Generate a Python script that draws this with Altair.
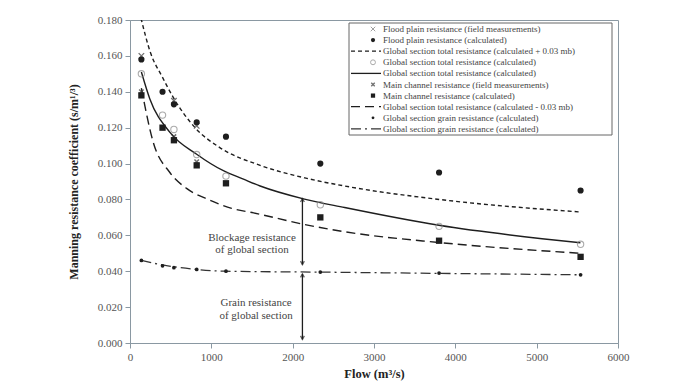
import altair as alt
import pandas as pd

# ---------------- data ----------------
flow_pts = [140, 400, 540, 820, 1180, 2340, 3800, 5540]
flood_calc = [0.158, 0.140, 0.133, 0.123, 0.115, 0.100, 0.095, 0.085]
global_calc = [0.150, 0.127, 0.119, 0.105, 0.093, 0.077, 0.065, 0.055]
main_calc = [0.138, 0.120, 0.113, 0.099, 0.089, 0.070, 0.057, 0.048]
grain_calc = [0.046, 0.043, 0.042, 0.041, 0.040, 0.0395, 0.039, 0.038]

field_flow = [140, 540, 820]
flood_field = [0.160, 0.135, 0.121]
main_field = [0.140, 0.115, 0.101]

total_flow = [140, 244, 491, 820, 1148, 1395, 1600, 2145, 2639, 3799, 5538]
total_line = [0.151, 0.136, 0.1174, 0.1052, 0.096, 0.0913, 0.0875, 0.0802, 0.0755, 0.0656, 0.0559]

upper_flow = [135, 250, 400, 530, 800, 1100, 1600, 2150, 2700, 3800, 5540]
upper_line = [0.181, 0.162, 0.148, 0.137, 0.120, 0.109, 0.099, 0.092, 0.087, 0.080, 0.073]

lower_flow = [140, 285, 490, 700, 960, 1250, 1520, 2150, 2640, 3800, 5540]
lower_line = [0.142, 0.112, 0.095, 0.086, 0.080, 0.075, 0.0725, 0.066, 0.062, 0.056, 0.050]

grain_flow = [140, 400, 540, 820, 1180, 2340, 3800, 5540]
grain_line = [0.046, 0.0435, 0.0425, 0.041, 0.040, 0.0395, 0.0388, 0.038]

arrow_flow = 2120
blockage_range = [0.0805, 0.0437]
grain_range = [0.0385, 0.002]

notes = ["Blockage resistance", "of global section", "Grain resistance", "of global section"]
notes_flow = [1500, 1500, 1550, 1550]
notes_n = [0.0587, 0.0516, 0.0224, 0.0153]

legend_labels = [
    "Flood plain resistance (field measurements)",
    "Flood plain resistance (calculated)",
    "Global section total resistance (calculated + 0.03 mb)",
    "Global section total resistance (calculated)",
    "Global section total resistance (calculated)",
    "Main channel resistance (field measurements)",
    "Main channel resistance (calculated)",
    "Global section total resistance (calculated - 0.03 mb)",
    "Global section grain resistance (calculated)",
    "Global section grain resistance (calculated)",
]

x_ticks = [0, 1000, 2000, 3000, 4000, 5000, 6000]
y_ticks = [0.0, 0.02, 0.04, 0.06, 0.08, 0.10, 0.12, 0.14, 0.16, 0.18]

# ---------------- styling ----------------
SERIF = "Liberation Serif"
INK = "#1e1e1e"
GREY = "#8a98a2"
W, H = 488, 323

xs = alt.Scale(domain=[0, 6000], nice=False)
ys = alt.Scale(domain=[0, 0.18], nice=False)

x_axis = alt.Axis(values=x_ticks, format="d", title="Flow (m³/s)", grid=False,
                  labelFont=SERIF, labelFontSize=11, labelColor="#555",
                  titleFont=SERIF, titleFontSize=12.5, titleFontWeight="bold", titleColor="#222",
                  tickSize=5, tickColor=GREY, domainColor=GREY, labelFlush=False,
                  labelOverlap=False, labelPadding=3, titlePadding=5)
y_axis = alt.Axis(values=y_ticks, format=".3f",
                  title="Manning resistance coefficient (s/m¹/³)", grid=False,
                  labelFont=SERIF, labelFontSize=11, labelColor="#555",
                  titleFont=SERIF, titleFontSize=12, titleFontWeight="bold", titleColor="#222",
                  tickSize=5, tickColor=GREY, domainColor=GREY, labelFlush=False,
                  labelOverlap=False, labelPadding=3, titlePadding=17)

X = alt.X("Q:Q", scale=xs, axis=x_axis)
Y = alt.Y("n:Q", scale=ys, axis=y_axis)

def df(q, n):
    return pd.DataFrame({"Q": q, "n": n})

XCROSS = "M-1,-1L1,1M-1,1L1,-1"

upper = alt.Chart(df(upper_flow, upper_line)).mark_line(
    interpolate="monotone", clip=True, color=INK, strokeWidth=1.4, strokeDash=[4, 3]
).encode(x=X, y=Y)
total = alt.Chart(df(total_flow, total_line)).mark_line(
    interpolate="monotone", clip=True, color=INK, strokeWidth=1.4
).encode(x=X, y=Y)
lower = alt.Chart(df(lower_flow, lower_line)).mark_line(
    interpolate="monotone", clip=True, color=INK, strokeWidth=1.4, strokeDash=[9, 5]
).encode(x=X, y=Y)
grain_l = alt.Chart(df(grain_flow, grain_line)).mark_line(
    interpolate="monotone", clip=True, color="#333", strokeWidth=1.3, strokeDash=[10, 4, 2, 4]
).encode(x=X, y=Y)

p_flood_field = alt.Chart(df(field_flow, flood_field)).mark_point(
    shape=XCROSS, filled=False, stroke="#333", strokeWidth=1.3, size=30
).encode(x=X, y=Y)
p_flood_calc = alt.Chart(df(flow_pts, flood_calc)).mark_point(
    shape="circle", filled=True, color=INK, opacity=1, size=38
).encode(x=X, y=Y)
p_global = alt.Chart(df(flow_pts, global_calc)).mark_point(
    shape="circle", filled=False, stroke="#888", strokeWidth=1.1, size=40
).encode(x=X, y=Y)
p_main_field = alt.Chart(df(field_flow, main_field)).mark_point(
    shape=XCROSS, filled=False, stroke="#333", strokeWidth=1.5, size=20
).encode(x=X, y=Y)
p_main_calc = alt.Chart(df(flow_pts, main_calc)).mark_point(
    shape="square", filled=True, color=INK, opacity=1, size=40
).encode(x=X, y=Y)
p_grain = alt.Chart(df(flow_pts, grain_calc)).mark_point(
    shape="circle", filled=True, color=INK, opacity=1, size=14
).encode(x=X, y=Y)

# arrows
arr_df = pd.DataFrame({"Q": [arrow_flow, arrow_flow],
                       "n": [blockage_range[0], grain_range[0]],
                       "n2": [blockage_range[1], grain_range[1]]})
arr_rules = alt.Chart(arr_df).mark_rule(color=INK, strokeWidth=1.3).encode(
    x=X, y=Y, y2="n2:Q")
heads_up = alt.Chart(df([arrow_flow, arrow_flow], [blockage_range[0], grain_range[0]])).mark_point(
    shape="M-0.6,1.1L0,0L0.6,1.1", filled=False, stroke=INK, strokeWidth=1.3, size=40
).encode(x=X, y=Y)
heads_dn = alt.Chart(df([arrow_flow, arrow_flow], [blockage_range[1], grain_range[1]])).mark_point(
    shape="M-0.6,-1.1L0,0L0.6,-1.1", filled=False, stroke=INK, strokeWidth=1.3, size=40
).encode(x=X, y=Y)

notes_df = pd.DataFrame({"Q": notes_flow, "n": notes_n, "t": notes})
notes_txt = alt.Chart(notes_df).mark_text(
    font=SERIF, fontSize=11, color="#444", align="center", baseline="middle"
).encode(x=X, y=Y, text="t:N")

# ---------------- legend (pixel space inside the plot) ----------------
row_y = [9 + i * 11.1 for i in range(10)]
LX0, LX1 = 219, 482
leg_box = alt.Chart(pd.DataFrame({"a": [LX0], "b": [LX1], "c": [3], "d": [115]})).mark_rect(
    fill="white", stroke="#666", strokeWidth=1
).encode(x=alt.X("a:Q", scale=None), x2="b:Q", y=alt.Y("c:Q", scale=None), y2="d:Q")
leg_text = alt.Chart(pd.DataFrame({"px": [253] * 10, "py": row_y, "t": legend_labels})).mark_text(
    font=SERIF, fontSize=9, color="#444", align="left", baseline="middle"
).encode(x=alt.X("px:Q", scale=None), y=alt.Y("py:Q", scale=None), text="t:N")

def leg_pt(i, **kw):
    return alt.Chart(pd.DataFrame({"px": [243], "py": [row_y[i]]})).mark_point(**kw).encode(
        x=alt.X("px:Q", scale=None), y=alt.Y("py:Q", scale=None))

def leg_ln(i, **kw):
    return alt.Chart(pd.DataFrame({"px": [221, 251], "py": [row_y[i], row_y[i]]})).mark_line(**kw).encode(
        x=alt.X("px:Q", scale=None), y=alt.Y("py:Q", scale=None))

leg_marks = [
    leg_pt(0, shape=XCROSS, filled=False, stroke="#777", strokeWidth=1, size=20),
    leg_pt(1, shape="circle", filled=True, color=INK, opacity=1, size=18),
    leg_ln(2, color=INK, strokeWidth=1.3, strokeDash=[4, 3]),
    leg_pt(3, shape="circle", filled=False, stroke="#888", strokeWidth=1, size=24),
    leg_ln(4, color=INK, strokeWidth=1.3),
    leg_pt(5, shape=XCROSS, filled=False, stroke="#333", strokeWidth=1.3, size=12),
    leg_pt(6, shape="square", filled=True, color=INK, opacity=1, size=18),
    leg_ln(7, color=INK, strokeWidth=1.3, strokeDash=[9, 5]),
    leg_pt(8, shape="circle", filled=True, color=INK, opacity=1, size=8),
    leg_ln(9, color="#333", strokeWidth=1.2, strokeDash=[10, 4, 2, 4]),
]

chart = alt.layer(
    upper, total, lower, grain_l,
    p_flood_field, p_flood_calc, p_global, p_main_field, p_main_calc, p_grain,
    arr_rules, heads_up, heads_dn, notes_txt,
    leg_box, leg_text, *leg_marks,
).properties(
    width=W, height=H,
    autosize=alt.AutoSizeParams(type="none"),
    padding={"left": 122, "top": 12, "right": 50, "bottom": 39},
    background="white",
).configure_view(stroke=GREY, strokeWidth=1)

chart.save("out.html", embed_options={"renderer": "svg", "actions": False})
